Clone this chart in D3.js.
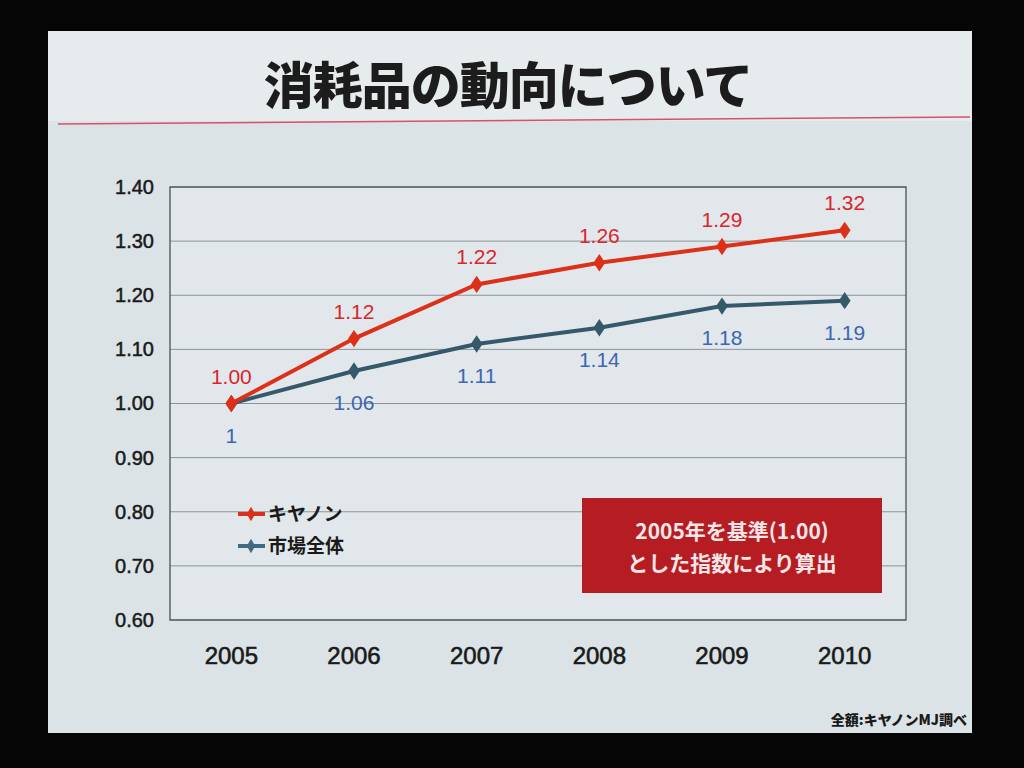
<!DOCTYPE html>
<html><head><meta charset="utf-8">
<script src="https://cdn.jsdelivr.net/npm/d3@7"></script>
<style>html,body{margin:0;padding:0;background:#000;}svg{display:block;}</style>
</head><body>
<svg id="c" width="1024" height="768"></svg>
<script>
const years = ["2005","2006","2007","2008","2009","2010"];
const canon = [1.00,1.12,1.22,1.26,1.29,1.32];
const canonLabels = ["1.00","1.12","1.22","1.26","1.29","1.32"];
const market = [1,1.06,1.11,1.14,1.18,1.19];
const marketLabels = ["1","1.06","1.11","1.14","1.18","1.19"];
const yTicks = [0.6,0.7,0.8,0.9,1.0,1.1,1.2,1.3,1.4];
const seriesNames = ["キヤノン","市場全体"];
const title = "消耗品の動向について";
const noteLines = ["2005年を基準(1.00)","とした指数により算出"];
const source = "全額:キヤノンMJ調べ";

const font = "'Noto Sans CJK JP','Noto Sans',sans-serif";
const numFont = "'Liberation Sans',Arial,'Noto Sans CJK JP',sans-serif";
const svg = d3.select("#c");
svg.append("rect").attr("x",0).attr("y",0).attr("width",1024).attr("height",768).attr("fill","#050505");
svg.append("rect").attr("x",48).attr("y",31).attr("width",924).attr("height",702).attr("fill","#dbe3e6");
svg.append("rect").attr("x",48).attr("y",31).attr("width",924).attr("height",90).attr("fill","#e6ebed");

svg.append("text").attr("x",508).attr("y",104).attr("text-anchor","middle")
  .attr("font-family",font).attr("font-weight",900).attr("font-size",50).attr("letter-spacing",-1).attr("fill","#1c1c1c").text(title);
svg.append("line").attr("x1",58).attr("x2",970).attr("y1",124).attr("y2",117).attr("stroke","#d9506a").attr("stroke-width",1.5);

const L=170,R=906,T=187,B=620;
const x = d3.scaleBand().domain(years).range([L,R]);
const y = d3.scaleLinear().domain([0.6,1.4]).range([B,T]);
const g = svg.append("g");
g.append("rect").attr("x",L).attr("y",T).attr("width",R-L).attr("height",B-T).attr("fill","#e1e7ea");
g.selectAll(".grid").data(yTicks).join("line")
  .attr("x1",L).attr("x2",R).attr("y1",d=>y(d)).attr("y2",d=>y(d))
  .attr("stroke","#8c9498").attr("stroke-width",1);
g.append("rect").attr("x",L).attr("y",T).attr("width",R-L).attr("height",B-T).attr("fill","none").attr("stroke","#4a5256").attr("stroke-width",1.3);

const yAxis = g.append("g").attr("transform",`translate(${L},0)`).call(d3.axisLeft(y).tickValues(yTicks).tickFormat(d3.format(".2f")).tickSize(0).tickPadding(16));
yAxis.select(".domain").remove();
yAxis.selectAll("text").attr("font-family",numFont).attr("font-size",20).attr("fill","#1a1a1a").attr("stroke","#1a1a1a").attr("stroke-width",0.5);
const xAxis = g.append("g").attr("transform",`translate(0,${B})`).call(d3.axisBottom(x).tickSize(0).tickPadding(27));
xAxis.select(".domain").remove();
xAxis.selectAll("text").attr("font-family",numFont).attr("font-size",24).attr("fill","#1a1a1a").attr("stroke","#1a1a1a").attr("stroke-width",0.6);

const line = d3.line().x((d,i)=>x(years[i])+x.bandwidth()/2).y(d=>y(d));
const series = [
  {vals:market, labels:marketLabels, color:"#35596a", lab:"#3c66b0", dy:39},
  {vals:canon, labels:canonLabels, color:"#dc3019", lab:"#d8262b", dy:-20}
];
series.forEach(s=>{
  g.append("path").datum(s.vals).attr("d",line).attr("fill","none").attr("stroke",s.color).attr("stroke-width",4);
  g.selectAll(null).data(s.vals).join("path")
    .attr("d",d3.symbol(d3.symbolDiamond,120)())
    .attr("transform",(d,i)=>`translate(${x(years[i])+x.bandwidth()/2},${y(d)}) scale(1,0.85)`)
    .attr("fill",s.color);
  g.selectAll(null).data(s.vals).join("text")
    .attr("x",(d,i)=>x(years[i])+x.bandwidth()/2).attr("y",d=>y(d)+s.dy)
    .attr("text-anchor","middle").attr("font-family",numFont).attr("font-size",21).attr("fill",s.lab)
    .text((d,i)=>s.labels[i]);
});

// legend
const leg = [{n:seriesNames[0],c:"#dc3019"},{n:seriesNames[1],c:"#3f6a82"}];
leg.forEach((d,i)=>{
  const yy = 514 + i*32;
  g.append("line").attr("x1",238).attr("x2",265).attr("y1",yy).attr("y2",yy).attr("stroke",d.c).attr("stroke-width",4);
  g.append("path").attr("d",d3.symbol(d3.symbolDiamond,60)()).attr("transform",`translate(251,${yy})`).attr("fill",d.c);
  g.append("text").attr("x",268).attr("y",yy+7).attr("font-family",font).attr("font-weight",700).attr("font-size",19).attr("fill","#1a1a1a").text(d.n);
});

// note box
g.append("rect").attr("x",582).attr("y",498).attr("width",300).attr("height",95).attr("fill","#b51d22");
noteLines.forEach((t,i)=>{
  g.append("text").attr("x",732).attr("y",539+i*32).attr("text-anchor","middle")
   .attr("font-family",font).attr("font-weight",700).attr("font-size",21).attr("fill","#f2e6e8").text(t);
});

svg.append("text").attr("x",967).attr("y",725).attr("text-anchor","end")
  .attr("font-family",font).attr("font-weight",900).attr("font-size",14).attr("fill","#1a1a1a").text(source);
</script>
</body></html>
